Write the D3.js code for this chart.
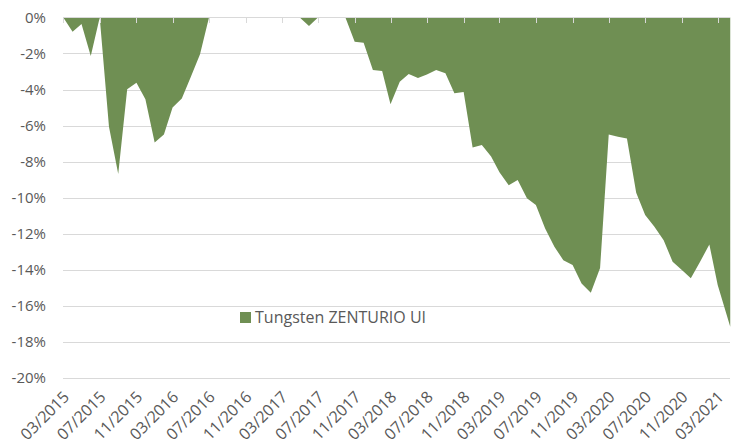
<!DOCTYPE html>
<html>
<head>
<meta charset="utf-8">
<title>Drawdown</title>
<style>
	body { margin: 0; background: #fff; }
	svg { display: block; font-family: "Open Sans", sans-serif; }
	.grid line { stroke: #d9d9d9; stroke-width: 1px; shape-rendering: crispEdges; }
	.axis text { fill: #595959; font-size: 15px; }
	.axis.x text { font-size: 16px; }
	.legend text { fill: #595959; font-size: 16px; }
</style>
</head>
<body>
<script src="https://cdn.jsdelivr.net/npm/d3@7/dist/d3.min.js"></script>
<script>
var width = 731,
	height = 447;

// month of each observation (last one is a part month)
var dates = [
	"2015-03-01", "2015-04-01", "2015-05-01", "2015-06-01", "2015-07-01", "2015-08-01", "2015-09-01", "2015-10-01", "2015-11-01", "2015-12-01",
	"2016-01-01", "2016-02-01", "2016-03-01", "2016-04-01", "2016-05-01", "2016-06-01", "2016-07-01", "2016-08-01", "2016-09-01", "2016-10-01", "2016-11-01", "2016-12-01",
	"2017-01-01", "2017-02-01", "2017-03-01", "2017-04-01", "2017-05-01", "2017-06-01", "2017-07-01", "2017-08-01", "2017-09-01", "2017-10-01", "2017-11-01", "2017-12-01",
	"2018-01-01", "2018-02-01", "2018-03-01", "2018-04-01", "2018-05-01", "2018-06-01", "2018-07-01", "2018-08-01", "2018-09-01", "2018-10-01", "2018-11-01", "2018-12-01",
	"2019-01-01", "2019-02-01", "2019-03-01", "2019-04-01", "2019-05-01", "2019-06-01", "2019-07-01", "2019-08-01", "2019-09-01", "2019-10-01", "2019-11-01", "2019-12-01",
	"2020-01-01", "2020-02-01", "2020-03-01", "2020-04-01", "2020-05-01", "2020-06-01", "2020-07-01", "2020-08-01", "2020-09-01", "2020-10-01", "2020-11-01", "2020-12-01",
	"2021-01-01", "2021-02-01", "2021-03-01", "2021-04-12"
];

// drawdown in percent
var drawdown = [
	0, -0.79, -0.37, -2.14, 0, -6.06, -8.69, -3.99, -3.62, -4.54,
	-6.93, -6.49, -4.99, -4.49, -3.30, -2.05, 0, 0, 0, 0, 0, 0,
	0, 0, 0, 0, 0, -0.48, 0, 0, 0, 0, -1.35, -1.40,
	-2.92, -2.97, -4.82, -3.57, -3.14, -3.36, -3.16, -2.92, -3.10, -4.21, -4.14, -7.21,
	-7.08, -7.71, -8.59, -9.30, -9.02, -10.03, -10.40, -11.70, -12.72, -13.46, -13.73, -14.75,
	-15.27, -13.90, -6.49, -6.62, -6.71, -9.72, -10.96, -11.61, -12.35, -13.55, -14.01, -14.47,
	-13.55, -12.59, -14.84, -17.15
];

var xTickLabels = ["03/2015", "07/2015", "11/2015", "03/2016", "07/2016", "11/2016", "03/2017", "07/2017", "11/2017",
	"03/2018", "07/2018", "11/2018", "03/2019", "07/2019", "11/2019", "03/2020", "07/2020", "11/2020", "03/2021"];

var yTicks = [0, -2, -4, -6, -8, -10, -12, -14, -16, -18, -20];

var seriesName = "Tungsten ZENTURIO UI";

var parseDay = d3.timeParse("%Y-%m-%d"),
	parseTick = d3.timeParse("%m/%Y");

var data = dates.map(function(d, i) {
	return { date: parseDay(d), value: drawdown[i] };
});

var plotLeft = 63.3, plotRight = 730, plotTop = 17.4, plotBottom = 378.1;

var x = d3.scaleTime()
	.domain([parseTick("03/2015"), parseTick("03/2021")])
	.range([plotLeft, 717.7]);

var y = d3.scaleLinear()
	.domain([-20, 0])
	.range([plotBottom, plotTop]);

var svg = d3.select("body").append("svg")
	.attr("width", width)
	.attr("height", height);

// horizontal gridlines
svg.append("g")
	.attr("class", "grid")
	.selectAll("line")
	.data(yTicks)
	.enter().append("line")
	.attr("x1", plotLeft)
	.attr("x2", plotRight)
	.attr("y1", function(d) { return Math.round(y(d)) + 0.5; })
	.attr("y2", function(d) { return Math.round(y(d)) + 0.5; });

var area = d3.area()
	.x(function(d) { return x(d.date); })
	.y0(y(0))
	.y1(function(d) { return y(d.value); });

svg.append("path")
	.datum(data)
	.attr("fill", "#6f8f53")
	.attr("d", area);

// category axis sits on the 0% line
var axisY = Math.round(y(0)) + 0.5;
var axisG = svg.append("g").attr("class", "grid");
axisG.append("line")
	.attr("x1", plotLeft).attr("x2", plotRight)
	.attr("y1", axisY).attr("y2", axisY);
axisG.selectAll(".tick")
	.data(xTickLabels)
	.enter().append("line")
	.attr("class", "tick")
	.attr("x1", function(d) { return Math.round(x(parseTick(d))) + 0.5; })
	.attr("x2", function(d) { return Math.round(x(parseTick(d))) + 0.5; })
	.attr("y1", axisY)
	.attr("y2", axisY + 5);

// y labels
svg.append("g")
	.attr("class", "axis")
	.selectAll("text")
	.data(yTicks)
	.enter().append("text")
	.attr("x", 46)
	.attr("y", function(d) { return y(d); })
	.attr("dy", "0.35em")
	.attr("text-anchor", "end")
	.text(function(d) { return d + "%"; });

// x labels, rotated
svg.append("g")
	.attr("class", "axis x")
	.selectAll("text")
	.data(xTickLabels)
	.enter().append("text")
	.attr("transform", function(d) {
		return "translate(" + (x(parseTick(d)) + 3) + "," + 394 + ")rotate(-45)";
	})
	.attr("dy", "0.35em")
	.attr("text-anchor", "end")
	.text(function(d) { return d; });

// legend
var legend = svg.append("g").attr("class", "legend");
legend.append("rect")
	.attr("x", 240)
	.attr("y", 312)
	.attr("width", 11)
	.attr("height", 11)
	.attr("fill", "#6f8f53");
legend.append("text")
	.attr("x", 255)
	.attr("y", 317.5)
	.attr("dy", "0.35em")
	.text(seriesName);
</script>
</body>
</html>
